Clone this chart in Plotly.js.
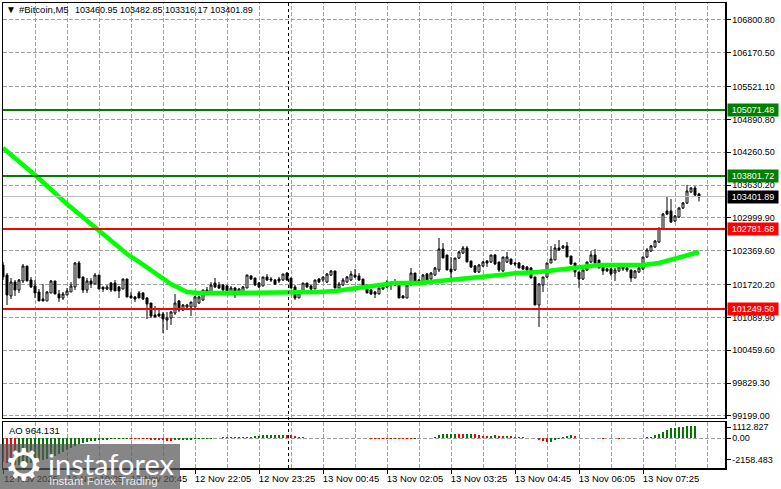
<!DOCTYPE html>
<html>
<head>
<meta charset="utf-8">
<script src="https://cdn.plot.ly/plotly-3.0.1.min.js"></script>
<style>
  html, body { margin: 0; padding: 0; background: #fff; }
  #chart { width: 781px; height: 489px; }
  /* terminal look, no soft edges on the thin marks */
  #chart .shapelayer path, #chart .barlayer path { shape-rendering: crispEdges; }
</style>
</head>
<body>
<div id="chart"></div>
<script>
// M5 bars, 12 Nov 18:05 to 13 Nov 08:35
const opens = [102096,101904,101501,101770,101616,101789,102077,101808,101693,101578,101443,101405,101558,101789,101539,101462,101520,101578,101674,102134,101866,101616,101789,101731,101904,101674,101635,101750,101750,101674,101635,101827,101501,101482,101558,101558,101462,101366,101136,101155,101155,101040,101078,101174,101405,101232,101290,101290,101290,101366,101424,101616,101578,101750,101712,101712,101693,101578,101654,101558,101558,101654,101885,101846,101750,101693,101866,101827,101808,101827,101808,101942,101846,101674,101462,101597,101750,101693,101635,101827,101808,101770,101904,101981,101654,101712,101770,101808,101904,101885,101827,101712,101616,101578,101539,101635,101674,101770,101712,101712,101501,101462,101712,101942,101808,101770,101923,101827,101904,102000,102403,102288,102019,102000,102230,102326,102422,102173,102077,101962,102077,102173,102154,102288,102154,101981,102154,102211,102134,102134,102077,102058,102038,101866,101328,101712,101866,102134,102192,102422,102422,102461,102269,102134,101962,101827,102000,102154,102288,102192,102058,102019,102019,101942,101981,102058,102038,102000,101846,101962,102019,102250,102365,102442,102538,102787,103133,103133,102941,103018,103190,103286,103498,103574,103460];
const highs = [102154,101942,101846,101808,101827,102115,102077,101866,101808,101635,101731,101597,101808,101789,101616,101578,101654,101770,102154,102173,101866,101846,101846,101942,101904,101674,101712,101770,101808,101693,101827,101827,101578,101501,101597,101578,101482,101366,101309,101270,101194,101194,101213,101539,101424,101347,101347,101386,101501,101501,101616,101674,101770,101846,101770,101731,101712,101693,101674,101654,101693,101904,101904,101846,101770,101866,101923,101866,101827,101866,101923,101962,101846,101712,101558,101750,101750,101712,101808,101846,101866,101942,102000,101981,101770,101846,101885,101981,102019,101942,101827,101712,101635,101597,101654,101693,101808,101770,101827,101731,101520,101712,102038,101942,101827,101923,101942,101962,102058,102614,102518,102288,102250,102230,102365,102461,102461,102173,102096,102115,102173,102192,102288,102307,102154,102250,102346,102211,102154,102154,102096,102077,102058,101866,101750,101866,102134,102461,102499,102576,102480,102538,102269,102134,101962,102000,102154,102365,102403,102192,102077,102038,102038,102038,102077,102077,102058,102000,102000,102058,102250,102422,102480,102576,102806,103094,103402,103363,103056,103210,103306,103632,103594,103613,103483];
const lows = [101808,101328,101443,101501,101558,101750,101789,101654,101462,101405,101405,101405,101558,101539,101386,101424,101520,101578,101616,101846,101558,101558,101654,101731,101635,101578,101616,101578,101597,101462,101635,101482,101462,101386,101462,101424,101059,101078,101098,101098,100790,100848,100944,101136,101194,101213,101232,101117,101290,101347,101405,101539,101558,101654,101635,101597,101578,101558,101462,101539,101539,101654,101808,101693,101654,101693,101789,101770,101712,101750,101789,101789,101654,101424,101462,101597,101654,101616,101635,101750,101770,101750,101885,101654,101635,101693,101750,101789,101846,101789,101674,101558,101520,101462,101539,101616,101654,101616,101693,101462,101462,101462,101712,101750,101750,101750,101789,101808,101885,101962,102230,102000,101846,101981,102211,102307,102154,102038,101942,101942,102058,102058,102134,102096,101962,101962,102134,102096,102077,102038,102000,101981,101846,101328,100906,101578,101846,102134,102192,102365,102403,102250,102096,101866,101654,101808,101981,102134,102115,102038,101904,101962,101885,101789,101962,101981,101962,101770,101846,101942,102000,102230,102346,102422,102518,102768,103056,102902,102922,102998,103171,103267,103478,103421,103316];
const closes = [101866,101520,101770,101616,101808,102077,101789,101674,101558,101405,101405,101578,101789,101539,101462,101539,101597,101693,102134,101846,101616,101789,101731,101904,101635,101635,101674,101616,101597,101597,101827,101482,101462,101443,101462,101443,101347,101117,101098,101117,101059,101078,101194,101366,101232,101328,101328,101386,101482,101482,101616,101558,101712,101674,101654,101616,101597,101654,101558,101635,101674,101904,101827,101712,101674,101866,101808,101808,101731,101789,101923,101808,101654,101462,101558,101750,101674,101635,101808,101770,101866,101923,101981,101654,101731,101808,101866,101923,101866,101808,101693,101558,101539,101539,101654,101674,101770,101712,101770,101462,101462,101712,101942,101770,101770,101904,101808,101942,102038,102403,102230,102000,101962,102230,102346,102422,102154,102058,101962,102096,102154,102134,102288,102115,102000,102250,102250,102115,102115,102038,102019,102000,101846,101328,101731,101866,102134,102211,102422,102384,102461,102250,102115,101962,101827,102000,102154,102288,102134,102038,101981,101981,101923,102000,102058,102019,102000,101846,101981,102038,102250,102384,102461,102557,102806,103075,103075,102922,103037,103190,103286,103517,103574,103440,103402];

// moving average, read at the bars where the line bends
const maBars = [0,8,16,24,27,31,34,39,42,46,49,54,60,64,71,74,79,83,87,89,93,98,104,109,114,119,124,129,134,139,144,149,154,160,164,168,172,174];
const maValues = [104342,103824,103267,102768,102576,102307,102154,101885,101731,101578,101558,101558,101558,101558,101578,101578,101578,101597,101635,101674,101693,101750,101750,101789,101827,101846,101904,101942,101962,102000,102058,102096,102096,102096,102134,102211,102288,102346];

// awesome oscillator, one value per bar
const aoValues = [-2400,-2500,-2600,-2650,-2620,-2580,-2500,-2420,-2350,-2280,-2170,-2080,-1950,-1750,-1530,-1350,-1180,-1000,-780,-560,-450,-360,-300,-240,-190,-160,-130,-110,-90,-70,-60,-50,-60,-70,-80,-90,-100,-120,-150,-170,-190,-220,-260,-210,-190,-170,-150,-130,-110,-90,-70,-50,-30,-15,60,120,160,140,120,100,90,120,170,220,280,300,320,330,340,350,370,360,300,220,150,100,60,30,10,-10,-10,-10,-10,10,20,30,30,30,20,10,10,-10,-20,-20,-30,-30,-40,-40,-30,-30,-40,-40,-40,-30,30,40,60,80,120,300,400,420,430,450,430,420,430,440,420,320,280,270,280,290,280,270,280,270,150,120,100,60,30,-10,-150,-300,-400,-370,-200,-50,120,250,300,280,80,-10,10,-10,10,-10,-20,10,20,-10,-20,10,-10,20,10,20,40,100,180,300,420,600,850,1000,1080,1130,1180,1200,1210,1230];

// axis labels
const priceTicks = [106800.80,106170.50,105521.10,104890.80,104260.50,103630.20,102999.90,102369.60,101720.20,101089.90,100459.60,99829.30,99199.00];
const aoTicks = [1112.827,0,-2158.483];
const timeTickBars = [0,16,32,48,64,80,96,112,128,144,160];
const timeTickText = ["12 Nov 2025","12 Nov 19:25","12 Nov 20:45","12 Nov 22:05","12 Nov 23:25","13 Nov 00:45","13 Nov 02:05","13 Nov 03:25","13 Nov 04:45","13 Nov 06:05","13 Nov 07:25"];
const gridBars = [8,16,24,32,40,48,56,64,72,80,88,96,104,112,120,128,136,144,152,160,168,176];

// horizontal levels
const greenLevels = [105071.48,103801.72];
const redLevels = [102781.68,101249.50];
const lastPrice = 103401.89;
const crosshairBar = 71.375;

// visible ranges
const barRange = [0, 180.5];
const priceRange = [99168, 107126];
const aoRange = [-2970, 1630];

const W = 781, H = 489;
const font = "Liberation Sans";
const gridColor = "#a0a0a0";
const gridDash = "4px,2px";
const bars = opens.map((_, i) => i);

// px helpers, the layout is given in window pixels
const px = (x) => x / W;
const py = (y) => 1 - y / H;

function levelLine(value, color, width) {
  return {
    type: "line", xref: "x", x0: barRange[0], x1: barRange[1], yref: "y", y0: value, y1: value,
    line: { color: color, width: width }, layer: "above",
  };
}

// grid as shapes, between the plot background and the candles
function gridH(value, xaxis, yaxis) {
  return {
    type: "line", xref: xaxis, x0: barRange[0], x1: barRange[1], yref: yaxis, y0: value, y1: value,
    line: { color: gridColor, width: 1, dash: gridDash }, layer: "between",
  };
}

function gridV(bar, xaxis, yaxis, range) {
  return {
    type: "line", xref: xaxis, x0: bar, x1: bar, yref: yaxis, y0: range[0], y1: range[1],
    line: { color: gridColor, width: 1, dash: gridDash }, layer: "between",
  };
}

function priceTag(value, color) {
  return {
    xref: "paper", x: px(727), xanchor: "left", yref: "y", y: value, yanchor: "middle",
    text: value.toFixed(2), showarrow: false, bgcolor: color, borderpad: 0,
    width: 50, height: 12, align: "center",
    font: { family: font, size: 9, color: "#fff" },
  };
}

function note(text, x, y, size, color, family) {
  return {
    xref: "paper", yref: "paper", x: px(x), y: py(y), xanchor: "left", yanchor: "middle",
    text: text, showarrow: false, borderpad: 0, font: { family: family || font, size: size, color: color },
  };
}

const traces = [
  {
    type: "candlestick", x: bars, open: opens, high: highs, low: lows, close: closes,
    increasing: { line: { color: "#000", width: 1 }, fillcolor: "#fff" },
    decreasing: { line: { color: "#000", width: 1 }, fillcolor: "#000" },
    whiskerwidth: 0, hoverinfo: "skip", xaxis: "x", yaxis: "y",
  },
  {
    type: "scatter", mode: "lines", x: maBars, y: maValues,
    line: { color: "#00ff00", width: 4.5 }, hoverinfo: "skip", xaxis: "x", yaxis: "y",
  },
  {
    type: "bar", x: bars, y: aoValues, width: 0.28,
    marker: {
      color: aoValues.map((v, i) => (i > 0 && v > aoValues[i - 1] ? "#007800" : "#ff0000")),
      line: { width: 0 },
    },
    hoverinfo: "skip", xaxis: "x2", yaxis: "y2",
  },
];

const sharedY = {
  side: "right", tickmode: "array", ticks: "outside", ticklen: 4, tickcolor: "#000",
  tickfont: { family: font, size: 9, color: "#000" }, zeroline: false, showgrid: false,
  showline: true, mirror: true, linecolor: "#000", linewidth: 1.5,
};

const layout = {
  width: W, height: H,
  margin: { l: 0, r: 0, t: 0, b: 0 },
  paper_bgcolor: "#fff", plot_bgcolor: "rgba(0,0,0,0)",
  showlegend: false, bargap: 0,
  xaxis: {
    domain: [px(3), px(725)], range: barRange, anchor: "y", rangeslider: { visible: false },
    tickmode: "array", tickvals: timeTickBars, showticklabels: false, ticks: "",
    showgrid: false, zeroline: false,
    showline: true, mirror: true, linecolor: "#000", linewidth: 1.5,
  },
  xaxis2: {
    domain: [px(3), px(725)], range: barRange, anchor: "y2",
    tickmode: "array", tickvals: timeTickBars, ticktext: timeTickText, tickangle: 0,
    ticks: "outside", ticklen: 4, tickcolor: "#000", ticklabelshift: 28, ticklabelstandoff: -3,
    tickfont: { family: font, size: 9.5, color: "#000" },
    showgrid: false, zeroline: false,
    showline: true, mirror: true, linecolor: "#000", linewidth: 1.5,
  },
  yaxis: Object.assign({}, sharedY, {
    domain: [py(417.5), py(3)], range: priceRange, anchor: "x",
    tickvals: priceTicks, ticktext: priceTicks.map((v) => v.toFixed(2)),
  }),
  yaxis2: Object.assign({}, sharedY, {
    domain: [py(468), py(422)], range: aoRange, anchor: "x2",
    tickvals: aoTicks, ticktext: aoTicks.map((v) => (v === 0 ? "0.00" : v.toFixed(3))),
  }),
  shapes: [
    ...priceTicks.map((v) => gridH(v, "x", "y")),
    gridH(0, "x2", "y2"),
    ...gridBars.map((b) => gridV(b, "x", "y", priceRange)),
    ...gridBars.map((b) => gridV(b, "x2", "y2", aoRange)),
    levelLine(lastPrice, "#c0c0c0", 1),
    ...greenLevels.map((v) => levelLine(v, "#008000", 2)),
    ...redLevels.map((v) => levelLine(v, "#ff0000", 2)),
    {
      type: "line", xref: "x", x0: crosshairBar, x1: crosshairBar, yref: "paper", y0: py(468), y1: py(3),
      line: { color: "#000", width: 1, dash: "3px,3px" }, layer: "above",
    },
    {
      type: "rect", xref: "paper", yref: "paper", x0: 0, x1: px(180), y0: 0, y1: py(444),
      fillcolor: "rgba(88,88,88,0.72)", line: { width: 0 }, layer: "above",
    },
  ],
  annotations: [
    ...greenLevels.map((v) => priceTag(v, "#008000")),
    ...redLevels.map((v) => priceTag(v, "#ff0000")),
    priceTag(lastPrice, "#000"),
    note("▼", 5, 10, 10, "#000"),
    note("#Bitcoin,M5", 18, 10, 9.5, "#000"),
    note("103460.95 103482.85 103316.17 103401.89", 74, 10, 9, "#000"),
    note("AO 964.131", 8, 430, 9.5, "#000"),
    note("⚙", 3, 464, 44, "#fff", "DejaVu Sans"),
    note("instaforex", 47, 463, 29, "#fff", "Lato"),
    note("Instant Forex Trading", 48, 481, 11.5, "rgba(255,255,255,0.85)"),
  ],
};

Plotly.newPlot("chart", traces, layout, { staticPlot: true, displayModeBar: false });
</script>
</body>
</html>
